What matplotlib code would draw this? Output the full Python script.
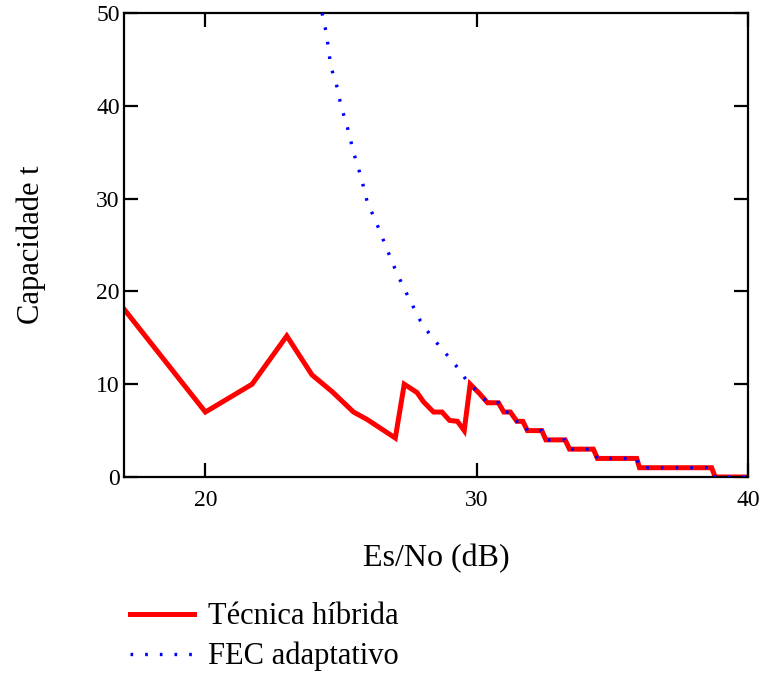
import matplotlib
matplotlib.use("Agg")
import matplotlib.pyplot as plt

plt.rcParams['font.family'] = ['Liberation Serif', 'DejaVu Serif']

# Es/No (dB) and correction capability t
hybrid_x = [17.0, 20.0, 21.72, 23.0, 23.93, 24.67, 25.46, 25.96, 27.0, 27.33,
            27.8, 28.04, 28.41, 28.72, 29.0, 29.29, 29.54]
hybrid_t = [18.1, 7.0, 10.0, 15.2, 11.0, 9.2, 7.0, 6.2, 4.2, 10.0,
            9.1, 8.1, 7.0, 7.0, 6.1, 6.0, 5.0]

fec_x = [24.3, 24.46, 24.63, 24.8, 25.0, 25.25, 25.47, 25.74, 25.96, 26.33,
         26.7, 27.05, 27.48, 27.93, 28.24, 28.6, 28.98, 29.35, 29.65]
fec_t = [50.0, 47.8, 44.1, 42.7, 40.0, 37.5, 34.9, 32.3, 29.7, 27.2,
         24.5, 22.0, 19.4, 16.8, 15.5, 14.2, 12.9, 11.6, 10.3]

# high-SNR region where both schemes coincide
common_x = [29.76, 30.1, 30.4, 30.8, 31.0, 31.24, 31.48, 31.7, 31.87, 32.4,
            32.55, 33.26, 33.42, 34.3, 34.45, 35.9, 36.0, 38.66, 38.79, 40.0]
common_t = [10, 9, 8, 8, 7, 7, 6, 6, 5, 5,
            4, 4, 3, 3, 2, 2, 1, 1, 0, 0]

x_ticks = [20, 30, 40]
y_ticks = [0, 10, 20, 30, 40, 50]

fig = plt.figure(figsize=(7.77, 6.79), dpi=100)
ax = fig.add_axes([124 / 777, 1 - 477 / 679, (748 - 124) / 777, (477 - 13) / 679])

ax.plot(hybrid_x + common_x, hybrid_t + common_t, color='#ff0000', lw=3.6,
        solid_joinstyle='miter', label='Técnica híbrida', zorder=2)
ax.plot(fec_x + common_x, fec_t + common_t, color='#0000ff', lw=2.4,
        linestyle=(0, (0.8, 3.6)), label='FEC adaptativo', zorder=3)

ax.set_xlim(17, 40)
ax.set_ylim(0, 50)
ax.set_xticks(x_ticks)
ax.set_yticks(y_ticks)
ax.tick_params(axis='both', direction='in', length=10, width=1.6,
               top=True, right=True, labelsize=17)
ax.tick_params(axis='x', pad=9)
ax.tick_params(axis='y', pad=3)
for sp in ax.spines.values():
    sp.set_linewidth(1.6)
    sp.set_color('black')

ax.set_xlabel('Es/No (dB)', fontsize=23, labelpad=24)
ax.set_ylabel('Capacidade t', fontsize=22, labelpad=36)

fig.legend(loc='upper left', bbox_to_anchor=(118 / 777, 1 - 590 / 679),
           frameon=False, fontsize=22, handlelength=2.1, handletextpad=0.45,
           labelspacing=0.35, borderaxespad=0)

fig.savefig('out.png', dpi=100)
